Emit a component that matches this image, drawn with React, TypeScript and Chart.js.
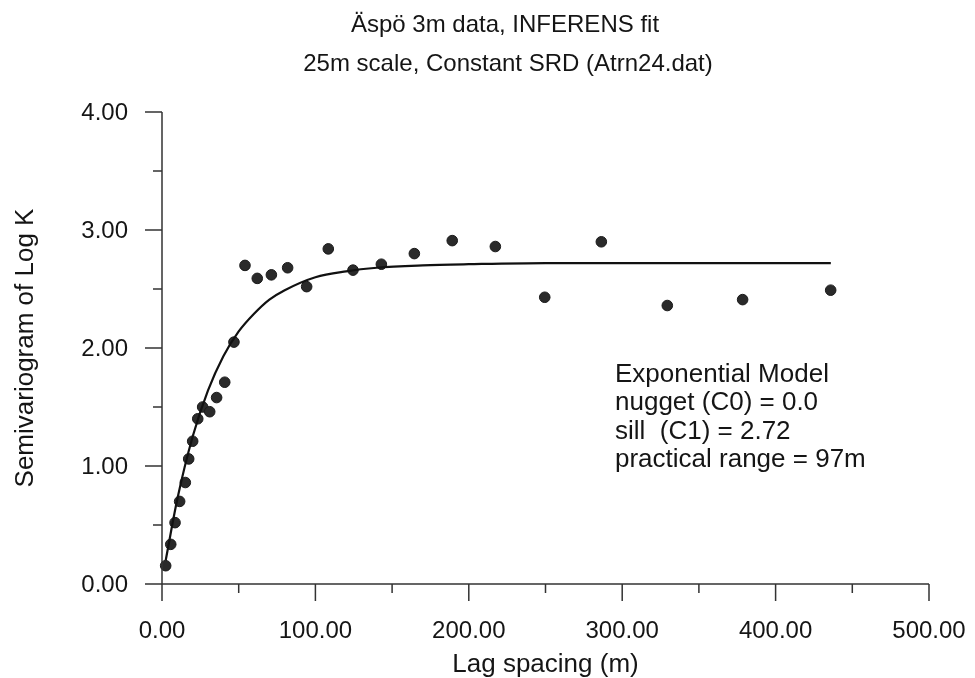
import React, { useEffect, useRef } from "react";
import { Chart, registerables } from "chart.js";

Chart.register(...registerables);

const TITLE_LINES = ["Äspö 3m data, INFERENS fit", "25m scale, Constant SRD (Atrn24.dat)"];
const X_TITLE = "Lag spacing (m)";
const Y_TITLE = "Semivariogram of Log K";
const MODEL_TEXT = ["Exponential Model", "nugget (C0) = 0.0", "sill  (C1) = 2.72", "practical range = 97m"];

// experimental semivariogram points
const LAGS = [2.4, 5.7, 8.5, 11.5, 15.2, 17.4, 20.0, 23.3, 26.5, 31.1, 35.6, 40.9, 46.9, 54.1, 62.1, 71.3, 81.9, 94.3, 108.4, 124.5, 143.0, 164.5, 189.2, 217.3, 249.5, 286.4, 329.4, 378.5, 435.9];
const GAMMA = [0.155, 0.336, 0.52, 0.7, 0.86, 1.06, 1.21, 1.4, 1.5, 1.46, 1.58, 1.71, 2.05, 2.7, 2.59, 2.62, 2.68, 2.52, 2.84, 2.66, 2.71, 2.8, 2.91, 2.86, 2.43, 2.9, 2.36, 2.41, 2.49];

// fitted model curve
const MODEL_LAG = [2.4, 10, 20, 30, 40, 50, 60, 70, 80, 100, 120, 140, 170, 200, 250, 300, 350, 400, 436];
const MODEL_GAMMA = [0.2, 0.72, 1.25, 1.64, 1.93, 2.14, 2.29, 2.41, 2.49, 2.6, 2.65, 2.68, 2.7, 2.71, 2.72, 2.72, 2.72, 2.72, 2.72];

const X_MAJOR = [0, 100, 200, 300, 400, 500];
const X_MINOR = [50, 150, 250, 350, 450];
const Y_MAJOR = [0, 1, 2, 3, 4];
const Y_MINOR = [0.5, 1.5, 2.5, 3.5];

const FONT = "'Liberation Sans', Arial, sans-serif";
const TEXT_COLOR = "#151515";
const AXIS_COLOR = "#333333";

const axesPlugin = {
  id: "customAxes",
  afterDraw(chart: any) {
    const ctx = chart.ctx as CanvasRenderingContext2D;
    const xs = chart.scales.x;
    const ys = chart.scales.y;
    const x0 = xs.getPixelForValue(0);
    const x1 = xs.getPixelForValue(500);
    const y0 = ys.getPixelForValue(0);
    const y1 = ys.getPixelForValue(4);
    const major = 17;
    const minor = 9;
    ctx.save();
    ctx.strokeStyle = AXIS_COLOR;
    ctx.lineWidth = 1.5;
    ctx.beginPath();
    ctx.moveTo(x0, y1);
    ctx.lineTo(x0, y0 + major);
    ctx.moveTo(x0 - major, y0);
    ctx.lineTo(x1, y0);
    for (const v of X_MAJOR) {
      const p = xs.getPixelForValue(v);
      ctx.moveTo(p, y0);
      ctx.lineTo(p, y0 + major);
    }
    for (const v of X_MINOR) {
      const p = xs.getPixelForValue(v);
      ctx.moveTo(p, y0);
      ctx.lineTo(p, y0 + minor);
    }
    for (const v of Y_MAJOR) {
      const p = ys.getPixelForValue(v);
      ctx.moveTo(x0, p);
      ctx.lineTo(x0 - major, p);
    }
    for (const v of Y_MINOR) {
      const p = ys.getPixelForValue(v);
      ctx.moveTo(x0, p);
      ctx.lineTo(x0 - minor, p);
    }
    ctx.stroke();

    ctx.fillStyle = TEXT_COLOR;
    ctx.font = `24px ${FONT}`;
    ctx.textAlign = "right";
    ctx.textBaseline = "middle";
    for (const v of Y_MAJOR) {
      ctx.fillText(v.toFixed(2), x0 - 34, ys.getPixelForValue(v) + 1);
    }
    ctx.textAlign = "center";
    ctx.textBaseline = "alphabetic";
    for (const v of X_MAJOR) {
      ctx.fillText(v.toFixed(2), xs.getPixelForValue(v), y0 + 54);
    }

    ctx.font = `26px ${FONT}`;
    ctx.fillText(X_TITLE, (x0 + x1) / 2, y0 + 88);
    ctx.save();
    ctx.translate(33, (y0 + y1) / 2);
    ctx.rotate(-Math.PI / 2);
    ctx.fillText(Y_TITLE, 0, 0);
    ctx.restore();

    ctx.font = `24px ${FONT}`;
    ctx.fillText(TITLE_LINES[0], 505, 32);
    ctx.fillText(TITLE_LINES[1], 508, 71);

    ctx.font = `26px ${FONT}`;
    ctx.textAlign = "left";
    const bases = [382, 410, 439, 467];
    MODEL_TEXT.forEach((t, i) => ctx.fillText(t, 615, bases[i]));
    ctx.restore();
  },
};

export default function App() {
  const ref = useRef<HTMLCanvasElement | null>(null);
  useEffect(() => {
    if (!ref.current) return;
    const chart = new Chart(ref.current, {
      type: "scatter",
      data: {
        datasets: [
          {
            type: "line",
            data: MODEL_LAG.map((x, i) => ({ x, y: MODEL_GAMMA[i] })),
            borderColor: "#111",
            borderWidth: 2.2,
            pointRadius: 0,
            cubicInterpolationMode: "monotone",
            fill: false,
            clip: false,
          } as any,
          {
            type: "scatter",
            data: LAGS.map((x, i) => ({ x, y: GAMMA[i] })),
            backgroundColor: "#2a2a2a",
            borderColor: "#1a1a1a",
            borderWidth: 1,
            pointRadius: 5.3,
            clip: false,
          } as any,
        ],
      },
      options: {
        responsive: false,
        animation: false,
        layout: { padding: { left: 162, right: 46, top: 112, bottom: 94 } },
        plugins: { legend: { display: false }, tooltip: { enabled: false } },
        scales: {
          x: { type: "linear", min: 0, max: 500, display: false },
          y: { type: "linear", min: 0, max: 4, display: false },
        },
      },
      plugins: [axesPlugin],
    });
    return () => chart.destroy();
  }, []);
  return (
    <div style={{ position: "fixed", left: 0, top: 0, width: 975, height: 678, background: "#fff" }}>
      <canvas ref={ref} width={975} height={678} style={{ display: "block" }} />
    </div>
  );
}
